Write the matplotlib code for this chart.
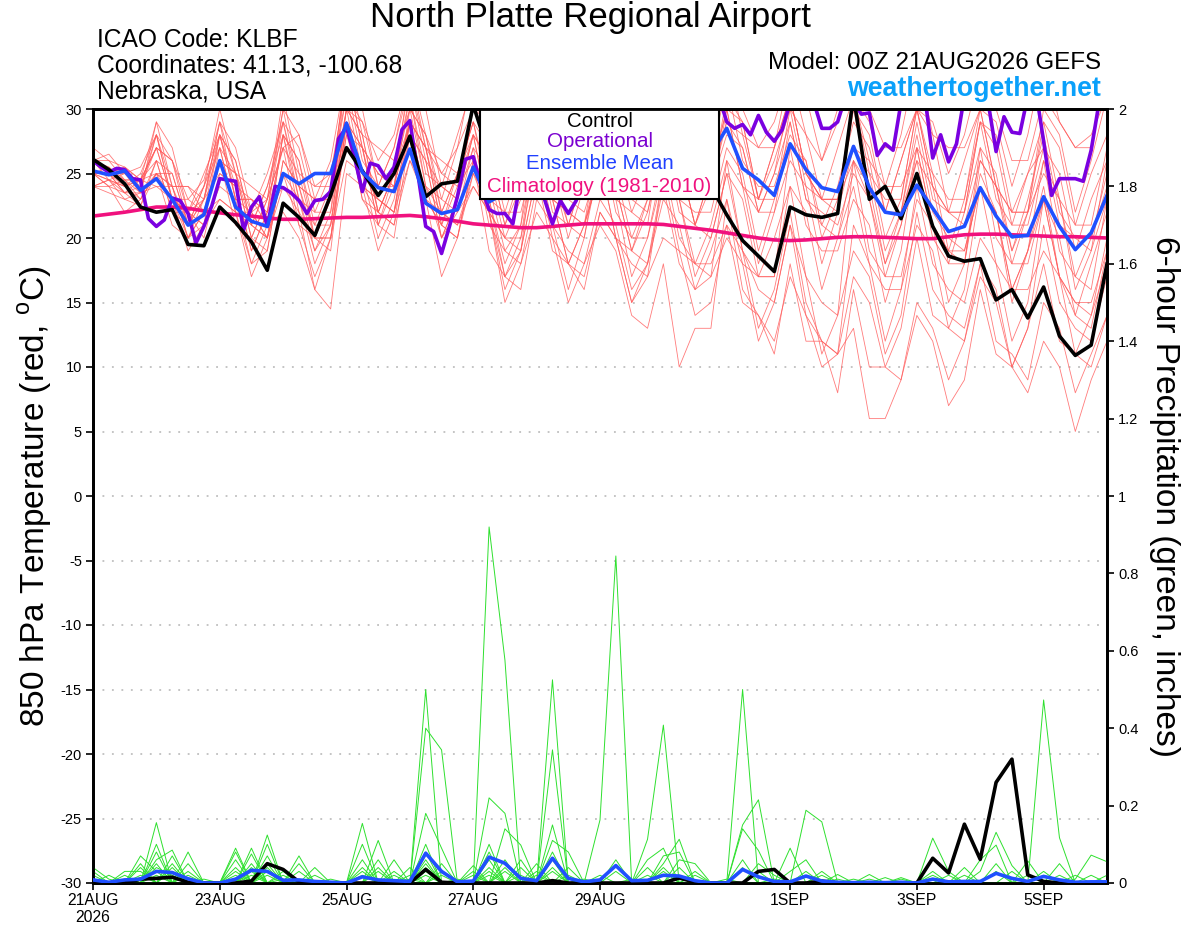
import numpy as np
import matplotlib
matplotlib.use("Agg")
import matplotlib.pyplot as plt
from matplotlib.patches import Rectangle
from matplotlib.ticker import FuncFormatter

# ---------------- data (6-hourly unless noted) ----------------
TICK_DAYS = [0, 2, 4, 6, 8, 11, 13, 15]
TICK_LABELS = ["21AUG\n2026", "23AUG", "25AUG", "27AUG", "29AUG", "1SEP", "3SEP", "5SEP"]

CONTROL_T = [26.1, 25.3, 24.2, 22.4, 22.0, 22.2, 19.5, 19.4, 22.4, 21.2, 19.7, 17.5, 22.7, 21.6, 20.2, 23.3,
             27.0, 25.2, 23.3, 25.0, 27.9, 23.2, 24.2, 24.4, 30.3, 26.5, 25.0, 24.0, 24.5, 25.5, 26.0, 25.0,
             24.5, 25.5, 26.5, 27.0, 26.0, 27.0, 26.5, 24.0, 21.8, 19.8, 18.6, 17.4, 22.4, 21.8, 21.6, 21.9,
             31.0, 23.0, 24.0, 21.5, 25.0, 20.9, 18.6, 18.2, 18.4, 15.2, 16.0, 13.8, 16.2, 12.4, 10.9, 11.7,
             18.0]

MEAN_T = [25.2, 24.9, 25.2, 23.7, 24.6, 23.0, 21.0, 21.8, 26.0, 22.4, 21.3, 20.9, 25.0, 24.2, 25.0, 25.0,
          28.9, 25.1, 23.9, 23.6, 26.9, 22.7, 21.9, 22.2, 25.5, 22.8, 23.5, 24.0, 24.5, 24.5, 25.0, 24.5,
          25.0, 25.5, 25.0, 24.5, 25.5, 25.0, 25.5, 26.5, 28.5, 25.4, 24.5, 23.3, 27.3, 25.3, 23.9, 23.6,
          27.1, 23.9, 22.0, 21.8, 24.1, 22.3, 20.5, 20.9, 23.9, 21.7, 20.1, 20.2, 23.2, 20.9, 19.1, 20.4,
          23.3]

CLIMO_T = [21.7, 21.85, 22.0, 22.2, 22.4, 22.4, 22.3, 22.1, 21.95, 21.8, 21.7, 21.55, 21.45, 21.45, 21.5, 21.55,
           21.6, 21.6, 21.65, 21.7, 21.75, 21.65, 21.5, 21.3, 21.1, 21.0, 20.9, 20.8, 20.8, 20.9, 21.0, 21.1,
           21.1, 21.1, 21.1, 21.1, 21.05, 20.9, 20.75, 20.6, 20.4, 20.2, 20.0, 19.85, 19.8, 19.85, 19.95, 20.05,
           20.1, 20.1, 20.05, 20.0, 19.95, 19.95, 20.1, 20.25, 20.3, 20.3, 20.25, 20.2, 20.15, 20.1, 20.1, 20.05,
           20.0]

# operational run, 3-hourly
OPER_T = [26.0, 25.5, 25.1, 25.4, 25.3, 24.6, 24.5, 21.5, 20.9, 21.4, 23.1, 22.9, 21.9, 19.6, 20.9, 22.5,
          24.6, 24.5, 24.4, 20.6, 22.4, 23.2, 20.9, 24.0, 23.9, 23.5, 22.9, 21.9, 22.9, 23.0, 23.6, 27.7,
          28.6, 26.3, 23.6, 25.8, 25.6, 24.6, 25.5, 28.4, 29.1, 25.0, 20.9, 20.5, 18.8, 20.9, 23.2, 26.1,
          26.3, 24.0, 22.2, 21.9, 21.9, 21.1, 24.5, 26.0, 25.0, 23.0, 21.1, 22.9, 21.9, 22.9, 25.5, 27.0,
          28.5, 27.5, 29.0, 30.5, 28.5, 27.0, 29.5, 31.0, 29.0, 30.5, 28.0, 29.0, 30.5, 31.5, 30.5, 31.0,
          29.0, 28.5, 28.8, 28.0, 29.5, 28.2, 27.5, 28.4, 30.5, 31.0, 31.5, 30.5, 28.5, 28.5, 29.0, 31.0,
          30.5, 29.6, 29.7, 26.4, 27.3, 26.8, 30.5, 32.0, 31.5, 31.0, 26.2, 28.0, 25.9, 27.3, 31.0, 32.0,
          31.5, 30.5, 26.7, 29.4, 28.2, 28.1, 31.0, 31.5, 27.5, 23.3, 24.6, 24.6, 24.6, 24.4, 26.8, 30.5,
          32.0]

# ensemble members, 850 hPa temperature
MEM_T01 = [26,25.5,24,25, 28,26,23,24.5, 29,25,22,23, 27,28,24,25, 31,29,26,28, 33,28,25,27, 30,29,26,25, 31,28,27,29, 32,29,27,26, 30,31,28,27, 32,30,27,29, 33,28,26,29, 32,30,27,27, 30,29,25,28, 33,30,26,26, 31,29,27,28, 31]
MEM_T02 = [25,24.5,24,23, 26,22,21,22, 26,25,21,20, 24,23,19,21, 28,24,23,22, 26,24,20,22, 24,22,17,19, 25,19,18,16, 22,20,15,17, 20,19,14,15, 21,15,14,12, 17,14,10,11, 13,6,6,9, 14,12,7,9, 16,11,10,8, 12,10,5,9, 12]
MEM_T03 = [24,24,22,23, 25,23,19,21, 23,22,18,19, 26,24,20,20, 29,24,22,21, 29,27,21,24, 26,24,19,21, 27,21,19,18, 23,21,16,18, 24,18,16,17, 20,18,12,15, 21,14,12,11, 17,15,10,13, 20,14,13,12, 17,15,10,13, 18,12,11,10, 14]
MEM_T04 = [26,24.5,25,24, 28,23,22,21, 28,26,21,24, 29,23,21,21, 30,28,22,25, 32,27,25,24, 28,26,21,25, 29,24,24,24, 28,27,23,26, 31,26,25,25, 29,27,22,25, 29,23,21,20, 26,24,18,21, 27,21,19,18, 26,24,18,22, 25,23,16,19, 23]
MEM_T05 = [25,25,23.5,24, 27,23,22,23, 25,24,19,22, 24,22,16,20, 26,25,20,23, 29,23,22,21, 24,22,15,18, 22,20,15,18, 21,19,14,13, 18,10,13,13, 23,18,17,17, 27,26,21,24, 29,27,22,26, 30,25,23,23, 29,28,22,25, 27,25,19,23, 26]
MEM_T06 = [27,26,25.5,24.5, 29,27,22,25, 28,23,23,22, 30,24,23,23, 34,28,27,26, 30,28,23,27, 33,27,26,26, 30,29,24,28, 33,28,28,27, 32,31,26,30, 34,28,27,27, 33,31,26,30, 31,29,24,28, 34,28,27,27, 30,29,24,28, 34,29,27,27, 33]
MEM_T07 = [25,24,23.5,22.5, 25,21,20,21, 27,25,20,23, 27,21,20,20, 29,27,22,25, 30,24,23,22, 27,25,20,23, 28,23,22,21, 25,24,19,22, 28,22,21,20, 25,23,17,20, 24,17,15,14, 19,17,11,14, 22,16,14,13, 18,16,10,13, 21,15,13,12, 17]
MEM_T08 = [24,24.5,23,23.5, 24,24,21,24, 27,22,22,20, 25,21,17,20, 28,27,21,24, 31,24,22,21, 25,23,18,21, 30,24,23,22, 26,24,19,23, 30,24,23,23, 30,29,23,27, 31,25,23,23, 27,26,20,23, 30,24,22,22, 27,25,19,23, 28,22,20,20, 25]
MEM_T09 = [25,25,24.5,23.5, 28,23,22,21, 24,23,18,21, 22,20,16,14.5, 25,24,19,22, 29,23,21,20, 26,23,17,20, 26,20,18,17, 22,20,15,18, 25,19,18,18, 21,19,13,16, 22,15,12,11, 21,18,12,16, 24,18,16,15, 20,18,12,15, 23,17,15,15, 19]
MEM_T10 = [26,25,25.5,24.5, 27,26,22,24, 30,25,24,23, 30,28,23,26, 33,27,25,24, 29,27,22,25, 29,24,23,23, 26,25,21,25, 29,24,23,22, 27,26,21,25, 30,24,23,23, 30,28,23,27, 31,26,24,24, 27,25,19,23, 30,24,22,22, 29,27,21,25, 28]
MEM_T11 = [25,24,24.5,23, 25,24,20,22, 26,21,20,19, 26,24,19,22, 29,23,22,21, 26,23,17,20, 26,19,17,16, 23,21,16,20, 26,20,18,17, 25,23,18,21, 26,19,16,15, 21,17,11,14, 26,19,17,17, 23,21,15,18, 27,20,18,18, 23,20,14,18, 22]
MEM_T12 = [26,26.5,25,25.5, 28,24,24,23, 29,27,22,25, 29,24,23,23, 30,29,24,27, 33,27,26,25, 29,27,22,26, 30,25,25,25, 29,28,23,27, 30,25,25,24, 29,28,23,26, 30,24,23,22, 27,25,19,22, 28,22,20,19, 24,22,16,19, 26,19,17,16, 23]
MEM_T13 = [24,23.5,23,22.5, 26,22,22,20, 25,24,19,22, 27,25,20,23, 30,24,23,22, 28,26,20,23, 28,22,20,19, 25,23,18,21, 26,20,19,18, 23,21,16,19, 23,16,14,11, 18,12,12,8, 16,10,10,9, 15,13,9,12, 18,12,11,9, 15,13,8,11, 14]
MEM_T14 = [25,25.5,24.5,24.5, 27,23,23,22, 26,25,20,23, 31,25,24,24, 33,30,24,27, 32,26,24,23, 28,26,21,24, 31,25,24,24, 28,27,22,25, 32,26,25,24, 31,29,23,27, 31,25,23,23, 26,23,17,21, 26,20,18,18, 25,22,16,19, 24,17,15,14, 20]
MEM_T15 = [26,25,24,24.5, 26,25,21,23, 29,23,22,20, 25,23,18,21, 30,28,22,25, 31,25,24,23, 30,28,23,27, 29,23,22,21, 25,23,17,20, 26,20,18,17, 26,24,18,22, 29,23,22,21, 25,23,18,22, 29,23,22,21, 26,24,19,22, 27,21,20,19, 26]
MEM_T16 = [25,24.5,24,24.5, 24,23,20,23, 28,24,23,21, 28,26,21,24, 31,25,23,22, 30,28,22,25, 28,22,20,20, 28,26,21,25, 31,26,25,25, 27,26,21,25, 30,24,22,22, 26,24,18,22, 30,24,22,22, 26,24,18,22, 29,23,21,21, 26,23,17,20, 24]
MEM_T17 = [25,25,23.5,23.5, 25,24,20,22, 23,22,17,20, 28,22,20,19, 29,27,21,25, 29,23,21,20, 25,22,16,19, 28,22,21,20, 27,25,20,23, 28,23,22,22, 27,25,19,23, 27,21,19,19, 23,21,15,19, 27,21,19,19, 24,22,15,19, 23,17,14,13, 19]
MEM_T18 = [26,25,25,23.5, 29,24,24,22, 28,26,21,24, 28,23,22,22, 33,27,25,24, 33,30,24,28, 32,26,25,24, 29,28,23,27, 32,26,26,25, 29,28,23,26, 32,26,24,24, 28,26,20,23, 31,25,23,23, 30,28,22,26, 30,24,22,22, 30,28,22,26, 31]
MEM_T19 = [24,24.5,23.5,24.5, 25,25,21,23, 27,22,21,20, 28,26,20,23, 29,23,21,20, 28,26,20,23, 27,21,19,18, 24,23,18,21, 28,22,20,20, 25,23,17,20, 25,19,17,17, 24,22,16,20, 24,18,16,16, 21,19,13,16, 24,18,16,16, 19,17,11,14, 18]
MEM_T20 = [26,26,24.5,24.5, 27,26,21,24, 28,23,23,22, 29,27,22,25, 32,26,24,24, 29,27,21,25, 29,23,22,22, 27,25,20,24, 28,23,22,21, 29,26,21,24, 28,27,22,25, 31,25,23,23, 30,28,22,26, 30,24,22,22, 29,27,21,25, 29,23,21,21, 27]

# 6-hour precipitation (inches)
CONTROL_P = [0,0,0,.01,.012,.015,.002,0, 0,0,.005,.05,.035,.003,0,0, 0,0,0,0,0,.035,.002,0, 0,0,0,0,0,.006,0,0,
             0,0,0,0,0,.013,.002,0, 0,0,.03,.035,0,0,.005,0, 0,0,0,0,0,.064,.026,.152, .061,.26,.32,.021,.004,0,0,0, 0]
MEAN_P = [.008,.002,.008,.01,.03,.027,.011,0, 0,.01,.033,.03,.007,.008,.004,.002, 0,.016,.008,.006,.004,.077,.03,.003,
          .005,.067,.051,.012,.006,.064,.012,.003, .008,.045,.006,.007,.02,.018,.006,0, 0,.035,.016,.004,.003,.018,.005,.002,
          .001,.002,.001,.002,0,.01,.003,.004, .004,.025,.012,.004,.017,.008,.002,.003, .003]

MEM_P01 = [.04,.01,0,0,.156,0,0,0, 0,.02,0,0,0,.03,0,0, 0,0,0,0,.01,0,0,0, 0,.06,0,0,0,.03,0,0, .163,.845,0,0,0,0,0,0, 0,0,.03,0,0,0,0,0, 0,0,0,0,0,0,0,0, 0,.05,0,0,0,0,0,0, 0]
MEM_P02 = [.03,0,.03,.03,0,.04,0,0, 0,0,.05,0,0,0,0,0, 0,.154,0,0,0,.04,0,0, 0,0,.14,.098,0,0,0,0, 0,0,0,.02,0,0,0,0, 0,0,0,.01,0,0,0,0, 0,0,0,0,0,.03,0,0, 0,0,0,0,0,0,0,0, 0]
MEM_P03 = [.02,0,0,.07,.03,0,.05,0, 0,0,0,.05,0,0,0,0, 0,0,.11,0,0,0,0,0, .03,0,0,0,.05,0,0,0, 0,.03,0,0,0,0,0,0, 0,.15,.215,0,0,0,0,0, 0,0,0,0,0,0,0,0, 0,.03,0,0,0,0,0,0, 0]
MEM_P04 = [.01,0,0,0,.10,0,0,0, 0,.09,0,0,0,0,.02,0, 0,0,0,0,0,.50,0,0, 0,0,0,.06,0,0,0,0, 0,0,0,.06,.09,0,0,0, 0,0,0,0,.09,0,0,0, 0,0,0,0,0,0,.02,0, 0,0,0,0,0,0,0,0, 0]
MEM_P05 = [0,.02,0,0,.08,0,0,0, 0,.06,0,0,0,0,0,.01, 0,0,0,0,0,.40,.344,0, 0,0,0,0,0,0,0,0, .02,0,0,0,0,0,0,0, 0,.06,0,0,0,0,0,0, 0,0,0,.01,0,0,0,0, 0,0,0,0,0,0,.02,0, 0]
MEM_P06 = [0,0,.02,0,.06,.085,0,0, 0,0,.02,0,0,0,0,0, 0,.10,0,0,0,.03,0,0, 0,.92,.576,0,0,0,0,0, 0,0,0,0,.03,0,0,0, 0,0,0,0,0,0,0,0, 0,.01,0,0,0,0,0,0, 0,0,0,0,0,.02,0,0, 0]
MEM_P07 = [0,0,.01,0,0,.07,0,0, 0,0,0,.07,0,0,0,0, 0,.02,0,0,0,.02,0,0, 0,.22,.18,0,0,0,0,0, 0,0,0,0,0,.04,0,0, 0,0,0,0,0,.188,.158,0, 0,0,0,0,0,0,0,0, 0,0,0,.02,0,0,0,0, 0]
MEM_P08 = [0,0,0,.05,0,.05,0,0, 0,0,0,.04,0,0,0,0, 0,0,.06,0,0,0,.03,0, 0,0,.04,0,0,.525,0,0, 0,0,0,0,0,0,.03,0, 0,0,0,0,0,0,0,.022, 0,0,0,0,0,0,0,0, 0,0,0,0,.03,0,0,0, 0]
MEM_P09 = [0,0,0,.04,0,0,.08,0, 0,0,0,.03,0,0,0,0, 0,0,0,.06,0,0,.02,0, 0,0,0,.04,0,.344,0,0, 0,0,0,0,0,.02,0,0, 0,0,0,0,0,0,0,0, .01,0,0,0,0,0,0,0, 0,0,0,0,.02,0,0,0, 0]
MEM_P10 = [0,0,0,.02,0,0,.03,0, 0,0,0,0,.03,0,0,0, 0,0,0,.03,0,0,0,.01, 0,0,0,0,.03,0,0,0, 0,0,.01,0,0,0,0,0, 0,.14,.084,0,0,0,0,0, 0,0,0,0,0,0,0,.02, 0,0,0,0,0,0,0,.02, 0]
MEM_P11 = [0,0,0,0,.05,0,0,0, 0,.08,0,0,0,0,0,0, 0,.06,0,0,0,.08,0,0, 0,0,.06,0,0,.15,0,0, 0,0,0,0,0,0,0,0, 0,.50,0,0,0,0,0,0, 0,0,0,0,0,.116,.03,0, 0,0,0,0,0,0,0,0, .02]
MEM_P12 = [0,0,0,0,.04,.02,0,0, 0,0,.09,0,.01,0,0,0, 0,0,0,0,.04,0,0,0, 0,.10,0,0,0,.11,.08,0, 0,0,0,0,0,0,0,0, 0,.04,0,0,0,.03,0,0, 0,0,0,0,0,0,0,.04, 0,0,0,0,0,0,0,0, 0]
MEM_P13 = [0,0,0,0,.02,0,0,0, 0,0,.075,0,0,0,0,0, 0,.04,0,0,0,.06,0,0, 0,.04,0,0,0,.08,0,0, 0,0,0,.113,.408,0,0,0, 0,0,0,0,0,0,0,0, 0,0,0,.014,0,0,0,0, 0,0,0,0,0,0,.01,.072, .055]
MEM_P14 = [0,0,0,0,0,.03,0,0, 0,0,0,.124,0,0,0,0, 0,.03,0,0,0,.05,0,0, 0,.02,0,0,0,0,.04,0, 0,0,0,0,.05,.113,0,0, 0,0,0,0,0,0,0,0, 0,.022,0,0,0,0,0,0, 0,0,0,0,0,.05,0,0, 0]
MEM_P15 = [0,0,0,0,0,0,.02,0, 0,0,0,.10,0,0,0,0, 0,0,.04,0,0,0,.05,0, 0,0,.03,0,0,0,0,.01, 0,0,0,0,0,0,.02,0, 0,0,0,0,0,0,.03,0, 0,0,0,0,0,0,0,0, .06,.098,0,0,0,0,0,0, 0]
MEM_P16 = [0,0,0,0,0,0,0,.01, 0,0,0,.02,0,0,0,0, 0,0,.03,0,0,0,0,0, .045,0,0,.02,0,0,0,0, 0,.06,0,0,0,0,0,0, .01,0,0,0,0,0,0,.01, 0,0,0,0,0,0,0,0, .03,.131,.045,0,0,0,0,0, 0]
MEM_P17 = [0,0,0,0,0,0,0,0, 0,.04,0,0,.02,0,0,0, 0,0,0,.02,0,0,0,0, .02,0,0,0,.02,0,0,0, 0,0,0,.04,0,0,0,0, 0,0,.05,.02,0,0,0,0, 0,0,0,0,0,.02,0,0, 0,0,0,0,0,0,0,0, 0]
MEM_P18 = [0,0,0,0,0,0,0,0, 0,.03,0,0,0,.07,0,0, 0,0,0,0,.02,0,0,0, 0,.08,0,0,0,.06,0,0, 0,0,0,0,.07,.08,0,0, 0,0,0,0,0,0,0,0, 0,0,.014,0,0,0,0,0, 0,0,.03,0,0,0,0,0, 0]
MEM_P19 = [0,0,0,0,0,0,0,0, 0,0,.04,0,0,.05,0,0, 0,0,0,0,0,.18,.09,0, 0,0,0,0,0,.04,0,0, 0,0,0,0,.04,0,0,0, 0,0,0,0,.03,.06,0,0, 0,0,0,0,0,0,0,0, 0,0,0,.057,0,0,0,0, 0]
MEM_P20 = [0,0,0,0,0,0,0,0, 0,0,.03,0,0,0,.04,0, 0,0,0,0,0,.10,0,0, 0,.03,0,0,0,0,.02,0, 0,0,0,0,0,.06,.05,0, 0,0,0,0,0,0,.02,0, 0,0,0,0,0,0,0,0, 0,0,0,0,.473,.117,0,0, 0]

MEMBERS_T = [MEM_T01, MEM_T02, MEM_T03, MEM_T04, MEM_T05, MEM_T06, MEM_T07, MEM_T08, MEM_T09, MEM_T10,
             MEM_T11, MEM_T12, MEM_T13, MEM_T14, MEM_T15, MEM_T16, MEM_T17, MEM_T18, MEM_T19, MEM_T20]
MEMBERS_P = [MEM_P01, MEM_P02, MEM_P03, MEM_P04, MEM_P05, MEM_P06, MEM_P07, MEM_P08, MEM_P09, MEM_P10,
             MEM_P11, MEM_P12, MEM_P13, MEM_P14, MEM_P15, MEM_P16, MEM_P17, MEM_P18, MEM_P19, MEM_P20]

# ---------------- figure ----------------
plt.rcParams["font.family"] = ["Liberation Sans", "DejaVu Sans"]
plt.rcParams["axes.unicode_minus"] = False

W, H = 1200, 927
fig = plt.figure(figsize=(W / 100, H / 100), dpi=100)
ax = fig.add_axes([93 / W, 44 / H, 1014 / W, 774 / H])

t6 = np.arange(len(CONTROL_T)) * 0.25
t3 = np.arange(len(OPER_T)) * 0.125

for m in MEMBERS_T:
    ax.plot(t6, m, color="#ff5a5a", lw=0.6, alpha=0.8, zorder=2)

for yv in range(-25, 30, 5):
    ax.axhline(yv, color="#b4b4b4", lw=1.1, ls=(0, (1.2, 5)), zorder=1)

ax.plot(t6, CLIMO_T, color="#f0117e", lw=2.6, zorder=4)
ax.plot(t3, OPER_T, color="#7a00e0", lw=2.6, zorder=5)
ax.plot(t6, CONTROL_T, color="black", lw=2.6, zorder=6)
ax.plot(t6, MEAN_T, color="#2050ff", lw=2.6, zorder=7)

ax.set_xlim(0, 16)
ax.set_ylim(-30, 30)
ax.set_yticks(range(-30, 31, 5))
ax.set_xticks(TICK_DAYS)
ax.set_xticklabels(TICK_LABELS, fontsize=11.3)
ax.tick_params(axis="y", labelsize=10.5, direction="out", length=5, width=1.2, pad=3)
ax.tick_params(axis="x", direction="out", length=5, width=1.2, pad=2)
for s in ax.spines.values():
    s.set_linewidth(2.0)

ax.set_ylabel("850 hPa Temperature (red, $^{\\mathregular{o}}$C)", fontsize=24, labelpad=5)

# legend box
x0, x1 = (480 - 93) / 1014, (719 - 93) / 1014
y0 = (883 - 199) / 774
ax.add_patch(Rectangle((x0, y0), x1 - x0, 1 - y0, transform=ax.transAxes,
                       facecolor="white", edgecolor="black", lw=1.5, zorder=20))
xc = (x0 + x1) / 2
leg = [("Control", "black", 121), ("Operational", "#7a00d0", 141),
       ("Ensemble Mean", "#2040ff", 163), ("Climatology (1981-2010)", "#f0117e", 186)]
for txt, col, yp in leg:
    ax.text(xc, (883 - yp) / 774, txt, color=col, fontsize=14.8, ha="center", va="center",
            transform=ax.transAxes, zorder=21)

# precipitation axis
ax2 = ax.twinx()
for g in MEMBERS_P:
    ax2.plot(t6, g, color="#2ee02e", lw=0.7, zorder=2)
ax2.plot(t6, CONTROL_P, color="black", lw=2.6, zorder=3)
ax2.plot(t6, MEAN_P, color="#2050ff", lw=2.6, zorder=4)
ax2.set_ylim(0, 2)
ax2.set_yticks(np.arange(0, 2.01, 0.2))
ax2.yaxis.set_major_formatter(FuncFormatter(lambda v, p: "%g" % round(v, 1)))
ax2.tick_params(axis="y", labelsize=10.5, direction="out", length=5, width=1.2, pad=3)
for s in ax2.spines.values():
    s.set_linewidth(2.0)
ax2.set_ylabel("6-hour Precipitation (green, inches)", fontsize=24, rotation=-90, labelpad=30)

# header texts
fig.text(590 / W, 1 - 18 / H, "North Platte Regional Airport", fontsize=25, ha="center", va="center")
fig.text(97 / W, 1 - 40 / H, "ICAO Code: KLBF", fontsize=17.7, ha="left", va="center")
fig.text(97 / W, 1 - 66 / H, "Coordinates: 41.13, -100.68", fontsize=17.7, ha="left", va="center")
fig.text(97 / W, 1 - 92 / H, "Nebraska, USA", fontsize=17.7, ha="left", va="center")
fig.text(1101 / W, 1 - 63 / H, "Model: 00Z 21AUG2026 GEFS", fontsize=17.4, ha="right", va="center")
fig.text(1101 / W, 1 - 89 / H, "weathertogether.net", fontsize=19.3, ha="right", va="center",
         color="#0aa0fa", fontweight="bold")

fig.savefig("out.png", dpi=100)
